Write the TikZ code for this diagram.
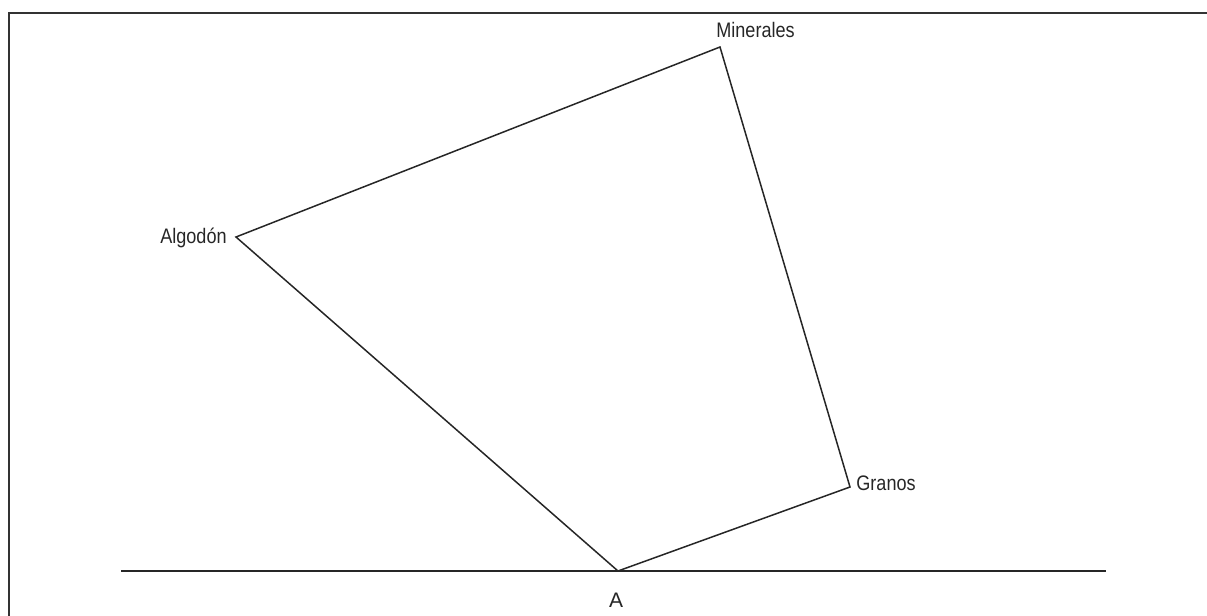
\documentclass[tikz,border=0pt]{standalone}
\usepackage{fontspec}
\setmainfont{Liberation Sans}
\begin{document}
\begin{tikzpicture}[x=0.5pt,y=-0.5pt,
  frame/.style={draw=black!80,line width=1pt},
  edge/.style={draw=black!85,line width=0.75pt,line join=miter},
  lbl/.style={inner sep=0pt,font=\fontsize{10.5}{12}\selectfont,text=black!85}]
\useasboundingbox (0,0) rectangle (1207,616);
\draw[frame] (9,616) -- (9,13) -- (1207,13);
\coordinate (L) at (121,571);
\coordinate (R) at (1106,571);
\draw[edge] (L) -- (R);
\coordinate (A) at (618,571);
\coordinate (G) at (850,487);
\coordinate (M) at (720,47);
\coordinate (C) at (236,237);
\draw[edge] (A) -- (G) -- (M) -- (C) -- cycle;
\node[lbl,anchor=west] (tM) at (716,30) {\scalebox{0.86}[1]{Minerales}};
\node[lbl,anchor=east] (tC) at (227,238) {\scalebox{0.86}[1]{Algodón}};
\node[lbl,anchor=west] (tG) at (856,483) {\scalebox{0.86}[1]{Granos}};
\node[lbl] (tA) at (616,600) {A};
\end{tikzpicture}
\end{document}
